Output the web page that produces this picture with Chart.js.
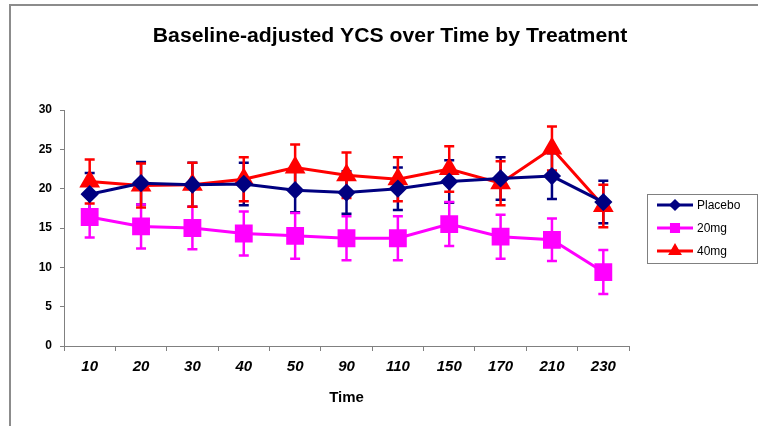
<!DOCTYPE html>
<html lang="en">
<head>
    <meta charset="UTF-8">
    <title>Baseline-adjusted YCS over Time by Treatment</title>
    <script src="https://cdn.jsdelivr.net/npm/chart.js"></script>
    <style>
        html, body { margin: 0; padding: 0; background: #fff; overflow: hidden; }
        .wrap { position: relative; width: 758px; height: 426px; }
        .frame {
            position: absolute; left: 9px; top: 4px; width: 800px; height: 500px;
            border-left: 2px solid #8c8c8c; border-top: 2px solid #8c8c8c;
            pointer-events: none;
        }
    </style>
</head>
<body>
    <div class="wrap">
        <canvas id="ycsChart" width="758" height="426"></canvas>
        <div class="frame"></div>
    </div>
    <script>
        // values
        const timeLabels = ['10', '20', '30', '40', '50', '90', '110', '150', '170', '210', '230'];

        const placebo    = [19.3, 20.7, 20.5, 20.6, 19.8, 19.5, 20.0, 20.9, 21.3, 21.6, 18.3];
        const placeboErr = [2.7, 2.7, 2.8, 2.7, 2.8, 2.7, 2.7, 2.7, 2.7, 2.9, 2.7];

        const mg20    = [16.4, 15.2, 15.0, 14.3, 14.0, 13.7, 13.7, 15.5, 13.9, 13.5, 9.4];
        const mg20Err = [2.6, 2.8, 2.7, 2.8, 2.9, 2.8, 2.8, 2.8, 2.8, 2.7, 2.8];

        const mg40    = [20.9, 20.4, 20.5, 21.2, 22.7, 21.7, 21.2, 22.5, 20.7, 25.1, 17.8];
        const mg40Err = [2.8, 2.8, 2.8, 2.8, 2.9, 2.9, 2.8, 2.9, 2.8, 2.8, 2.7];

        const yTicks = [0, 5, 10, 15, 20, 25, 30];

        const FONT = "'Liberation Sans', Arial, sans-serif";

        // vertical error bars with caps, placed through the y scale
        const errorBars = {
            id: 'errorBars',
            beforeDatasetsDraw(chart) {
                const ctx = chart.ctx;
                const y = chart.scales.y;
                chart.data.datasets.forEach((ds, di) => {
                    const meta = chart.getDatasetMeta(di);
                    ctx.save();
                    ctx.strokeStyle = ds.borderColor;
                    ctx.lineWidth = 2.5;
                    meta.data.forEach((pt, i) => {
                        const v = ds.data[i], e = ds.errors[i];
                        const top = y.getPixelForValue(v + e);
                        const bot = y.getPixelForValue(v - e);
                        ctx.beginPath();
                        ctx.moveTo(pt.x, top); ctx.lineTo(pt.x, bot);
                        ctx.moveTo(pt.x - 5, top); ctx.lineTo(pt.x + 5, top);
                        ctx.moveTo(pt.x - 5, bot); ctx.lineTo(pt.x + 5, bot);
                        ctx.stroke();
                    });
                    ctx.restore();
                });
            }
        };

        // title and boxed legend in the Excel style
        const decorations = {
            id: 'decorations',
            afterDraw(chart) {
                const ctx = chart.ctx;
                ctx.save();
                ctx.fillStyle = '#000';
                ctx.font = 'bold 20px ' + FONT;
                ctx.textAlign = 'center';
                ctx.textBaseline = 'middle';
                ctx.translate(390, 36);
                ctx.scale(1.06, 1);
                ctx.fillText('Baseline-adjusted YCS over Time by Treatment', 0, 0);
                ctx.setTransform(1, 0, 0, 1, 0, 0);

                ctx.strokeStyle = '#808080';
                ctx.lineWidth = 1;
                ctx.strokeRect(647.5, 194.5, 110, 69);

                const rows = [205, 228, 251];
                ctx.font = '12px ' + FONT;
                ctx.textAlign = 'left';
                chart.data.datasets.forEach((ds, i) => {
                    const ly = rows[i];
                    ctx.strokeStyle = ds.borderColor;
                    ctx.lineWidth = 3;
                    ctx.beginPath();
                    ctx.moveTo(657, ly); ctx.lineTo(693, ly);
                    ctx.stroke();
                    ctx.fillStyle = ds.borderColor;
                    Chart.helpers.drawPoint(ctx, {
                        pointStyle: ds.pointStyle, radius: ds.legendRadius, borderWidth: 1
                    }, 675, ly);
                    ctx.fillStyle = '#000';
                    ctx.fillText(ds.label, 697, ly + 1);
                });
                ctx.restore();
            }
        };

        const ctx = document.getElementById('ycsChart').getContext('2d');
        const chart = new Chart(ctx, {
            type: 'line',
            data: {
                labels: timeLabels,
                datasets: [
                    {
                        label: 'Placebo', data: placebo, errors: placeboErr,
                        borderColor: '#000080', backgroundColor: '#000080',
                        borderWidth: 3, pointStyle: 'rectRot', pointRadius: 7, legendRadius: 4
                    },
                    {
                        label: '20mg', data: mg20, errors: mg20Err,
                        borderColor: '#ff00ff', backgroundColor: '#ff00ff',
                        borderWidth: 3, pointStyle: 'rect', pointRadius: 10.5, legendRadius: 5
                    },
                    {
                        label: '40mg', data: mg40, errors: mg40Err,
                        borderColor: '#ff0000', backgroundColor: '#ff0000',
                        borderWidth: 3, pointStyle: 'triangle', pointRadius: 9, legendRadius: 5
                    }
                ]
            },
            options: {
                responsive: false,
                animation: false,
                layout: { padding: { left: 0, right: 129, top: 110, bottom: 0 } },
                plugins: {
                    legend: { display: false },
                    title: { display: false },
                    tooltip: { enabled: false }
                },
                scales: {
                    x: {
                        offset: true,
                        grid: { drawOnChartArea: false, offset: true, tickLength: 5, color: '#808080' },
                        border: { color: '#808080', width: 1 },
                        ticks: {
                            color: '#000', padding: 7,
                            font: { family: FONT, size: 15, weight: 'bold', style: 'italic' }
                        },
                        title: {
                            display: true, text: 'Time', color: '#000',
                            font: { family: FONT, size: 15, weight: 'bold' },
                            padding: { top: 4, bottom: 19 }
                        },
                        afterFit(scale) { scale.height = 80; }
                    },
                    y: {
                        min: 0, max: 30,
                        afterBuildTicks(scale) { scale.ticks = yTicks.map(v => ({ value: v })); },
                        grid: { drawOnChartArea: false, tickLength: 4, color: '#808080' },
                        border: { color: '#808080', width: 1 },
                        ticks: {
                            color: '#000', padding: 8,
                            font: { family: FONT, size: 12, weight: 'bold' }
                        },
                        afterFit(scale) { scale.width = 64; }
                    }
                }
            },
            plugins: [errorBars, decorations]
        });
    </script>
</body>
</html>
